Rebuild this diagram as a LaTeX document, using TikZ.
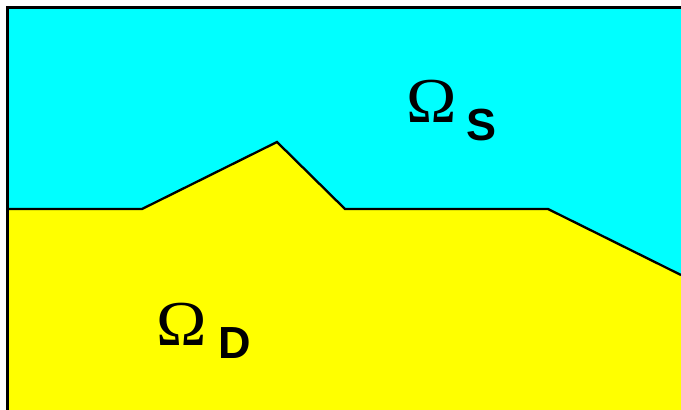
\documentclass[tikz,border=0pt]{standalone}
\usepackage{fontspec}
\newfontfamily\omegafont{Liberation Serif}
\newfontfamily\subfont{Liberation Sans}
\usetikzlibrary{positioning}
\definecolor{stokescol}{RGB}{0,255,255}
\definecolor{darcycol}{RGB}{255,255,0}

\tikzset{
  omega/.style={inner sep=0pt, anchor=base west, font=\omegafont\fontsize{64}{64}\selectfont},
  domsub/.style={inner sep=0pt, anchor=base west, font=\subfont\bfseries\fontsize{45}{45}\selectfont}
}

\begin{document}
\begin{tikzpicture}[x=1pt,y=-1pt]
\useasboundingbox (0,0) rectangle (681,410);
% the two domains
\fill[stokescol] (7,7) rectangle (681,410);
\fill[darcycol] (7,209) -- (142,209) -- (277,142) -- (345,209) -- (548,209) -- (681,275) -- (681,410) -- (7,410) -- cycle;
% interface
\draw[line width=2.3pt, line join=miter] (7,209) -- (142,209) -- (277,142) -- (345,209) -- (548,209) -- (681,275);
% frame
\draw[line width=3pt] (7,410) -- (7,7) -- (681,7);
% labels
\node[omega] (omS) at (406,122) {\scalebox{1.06}[1]{Ω}};
\node[domsub] (subS) at (466,140) {S};
\node[omega] (omD) at (156,345) {\scalebox{1.06}[1]{Ω}};
\node[domsub] (subD) at (218,358) {D};
\end{tikzpicture}
\end{document}
